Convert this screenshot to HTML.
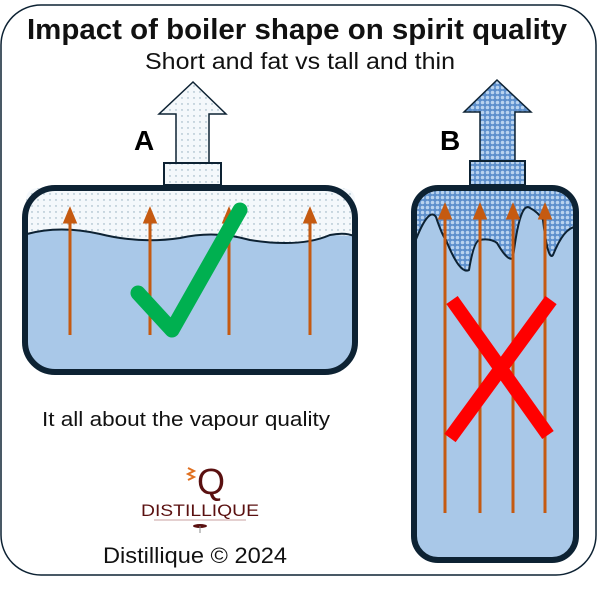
<!DOCTYPE html>
<html><head><style>
body{margin:0;background:#fff;}
svg{display:block;}
text{font-family:"Liberation Sans",sans-serif;}
</style></head><body>
<svg width="600" height="591" viewBox="0 0 600 591" xmlns="http://www.w3.org/2000/svg">
<defs>
<pattern id="dots" width="6" height="6" patternUnits="userSpaceOnUse"><rect width="6" height="6" fill="#f4f8fb"/><circle cx="2" cy="2" r="0.7" fill="#8aa6b8"/></pattern>
<pattern id="bub" width="5" height="5" patternUnits="userSpaceOnUse"><rect width="5" height="5" fill="#5d8fcc"/><circle cx="2.5" cy="2.5" r="1.8" fill="#b9d3ef"/></pattern>
<clipPath id="cb"><rect x="414" y="188" width="162" height="372" rx="24"/></clipPath>
</defs>
<rect x="1" y="5" width="595" height="570" rx="40" fill="#fff" stroke="#0d2233" stroke-width="1.5"/>
<text x="297" y="39" font-size="29" font-weight="bold" text-anchor="middle" fill="#111" textLength="540" lengthAdjust="spacingAndGlyphs">Impact of boiler shape on spirit quality</text>
<text x="300" y="69" font-size="23" text-anchor="middle" fill="#111" textLength="310" lengthAdjust="spacingAndGlyphs">Short and fat vs tall and thin</text>
<!-- A -->
<text x="134" y="150" font-size="28" font-weight="bold" fill="#000">A</text>
<polygon points="193,82 226,114 209,114 209,163 176,163 176,114 159,114" fill="url(#dots)" stroke="#0d2233" stroke-width="1.5"/>
<rect x="164" y="163" width="57" height="22" fill="url(#dots)" stroke="#0d2233" stroke-width="2"/>
<rect x="25" y="188" width="330" height="184" rx="30" fill="#a9c8e8"/>
<path d="M26,233 Q60,225 100,235 Q140,245 180,238 Q215,230 250,240 Q300,250 330,235 L355,236 L355,200 Q355,188 340,188 L40,188 Q26,188 26,200 Z" fill="url(#dots)"/>
<path d="M27,234 Q60,225 100,234 Q140,244 180,238 Q215,230 250,240 Q300,248 330,235 Q345,232 354,236" fill="none" stroke="#0d2233" stroke-width="2"/>
<rect x="25" y="188" width="330" height="184" rx="30" fill="none" stroke="#0d2233" stroke-width="6"/>
<g stroke="#c55a11" stroke-width="3" fill="#c55a11">
<line x1="70" y1="335" x2="70" y2="220"/><polygon points="70,210 65,222 75,222"/>
<line x1="150" y1="335" x2="150" y2="220"/><polygon points="150,210 145,222 155,222"/>
<line x1="229" y1="335" x2="229" y2="220"/><polygon points="229,210 224,222 234,222"/>
<line x1="310" y1="335" x2="310" y2="220"/><polygon points="310,210 305,222 315,222"/>
</g>
<polyline points="138,293 172,330 240,210" fill="none" stroke="#00b050" stroke-width="15" stroke-linecap="round" stroke-linejoin="round"/>
<!-- B -->
<text x="440" y="150" font-size="28" font-weight="bold" fill="#000">B</text>
<polygon points="497,80 531,112 515,112 515,161 480,161 480,112 464,112" fill="url(#bub)" stroke="#0d2233" stroke-width="1.5"/>
<rect x="470" y="161" width="55" height="24" fill="url(#bub)" stroke="#0d2233" stroke-width="2"/>
<rect x="414" y="188" width="162" height="372" rx="24" fill="#a9c8e8"/>
<g clip-path="url(#cb)">
<path d="M412,250 Q428,205 436,217 Q442,235 446,240 Q460,275 469,270 Q474,240 480,240 Q490,238 497,243 Q508,262 513,258 Q520,200 530,208 Q538,212 543,220 Q548,262 553,255 Q565,225 578,227 L578,185 L412,185 Z" fill="url(#bub)" stroke="#0d2233" stroke-width="2"/>
</g>
<rect x="414" y="188" width="162" height="372" rx="24" fill="none" stroke="#0d2233" stroke-width="6"/>
<g stroke="#c55a11" stroke-width="3" fill="#c55a11">
<line x1="445" y1="513" x2="445" y2="216"/><polygon points="445,206 440,218 450,218"/>
<line x1="480" y1="513" x2="480" y2="216"/><polygon points="480,206 475,218 485,218"/>
<line x1="513" y1="513" x2="513" y2="216"/><polygon points="513,206 508,218 518,218"/>
<line x1="545" y1="513" x2="545" y2="216"/><polygon points="545,206 540,218 550,218"/>
</g>
<g stroke="#ff0000" stroke-width="14">
<line x1="452" y1="300" x2="548" y2="435"/>
<line x1="551" y1="300" x2="450" y2="438"/>
</g>
<text x="42" y="426" font-size="20" fill="#111" textLength="288" lengthAdjust="spacingAndGlyphs">It all about the vapour quality</text>
<!-- logo -->
<text x="197" y="494" font-size="36" font-family="Liberation Serif" fill="#5a1010">Q</text>
<path d="M188,468 l6,3 -6,3 6,3 -6,3" stroke="#e07020" stroke-width="2" fill="none"/>
<text x="200" y="516" font-size="17" font-family="Liberation Serif" text-anchor="middle" fill="#5a1010" textLength="118" lengthAdjust="spacingAndGlyphs">DISTILLIQUE</text>
<line x1="154" y1="520" x2="246" y2="520" stroke="#c9a0a0" stroke-width="1"/>
<ellipse cx="200" cy="526" rx="7" ry="2" fill="#5a1010"/>
<line x1="200" y1="526" x2="200" y2="533" stroke="#888" stroke-width="1"/>
<text x="103" y="563" font-size="22" fill="#111" textLength="184" lengthAdjust="spacingAndGlyphs">Distillique © 2024</text>
</svg>
</body></html>
